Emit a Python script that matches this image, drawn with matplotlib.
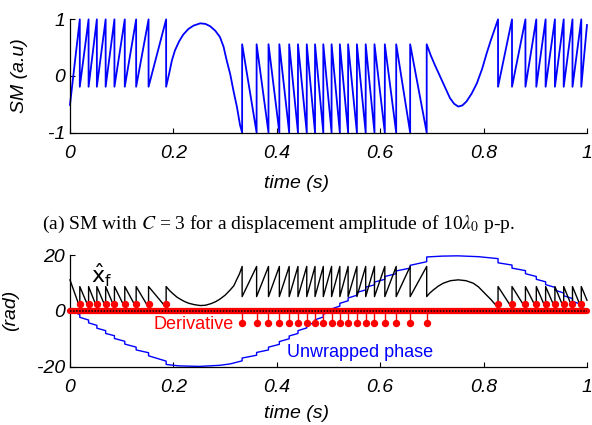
import matplotlib
matplotlib.use('Agg')
import matplotlib.pyplot as plt

plt.rcParams['font.family'] = ['Liberation Sans', 'DejaVu Sans']
plt.rcParams['axes.unicode_minus'] = False

# fringe times (s)
t_a = [0.019, 0.036, 0.052, 0.069, 0.086, 0.106, 0.128, 0.152, 0.186]
t_b = [0.333, 0.361, 0.384, 0.405, 0.424, 0.441, 0.458, 0.474, 0.490, 0.506,
       0.522, 0.538, 0.555, 0.572, 0.589, 0.609, 0.631, 0.658, 0.690]
t_c = [0.828, 0.855, 0.881, 0.902, 0.920, 0.938, 0.955, 0.972, 0.989]

# SM signal: level just before / just after each fringe
sm_start, sm_end = -0.51, 0.90
sm_a = (1.0, -0.19)
sm_b = (-1.0, 0.56)
sm_c = (1.0, -0.19)
sm_arc1_t = [0.192, 0.197, 0.203, 0.211, 0.219, 0.229, 0.239, 0.252, 0.262, 0.271,
             0.281, 0.290, 0.297, 0.303, 0.310, 0.316, 0.323, 0.329]
sm_arc1_v = [0.05, 0.27, 0.45, 0.61, 0.73, 0.83, 0.89, 0.93, 0.92, 0.88,
             0.80, 0.69, 0.52, 0.28, 0.03, -0.25, -0.55, -0.87]
sm_arc2_t = [0.698, 0.706, 0.714, 0.722, 0.735, 0.743, 0.751, 0.759, 0.767, 0.777,
             0.787, 0.797, 0.806, 0.814, 0.822]
sm_arc2_v = [0.36, 0.19, 0.03, -0.13, -0.39, -0.49, -0.54, -0.52, -0.45, -0.31,
             -0.13, 0.12, 0.40, 0.63, 0.84]

# x_f estimate (rad)
xf_start, xf_end = 11.1, 3.8
xf_a = (1.2, 8.7)
xf_b = (15.9, 5.1)
xf_c = (1.0, 8.7)
xf_arc1_t = [0.193, 0.200, 0.207, 0.215, 0.222, 0.230, 0.241, 0.252, 0.262, 0.273,
             0.282, 0.290, 0.300, 0.310, 0.317, 0.322, 0.328]
xf_arc1_v = [7.2, 6.0, 4.9, 4.0, 3.3, 2.7, 2.2, 1.9, 2.0, 2.6,
             3.3, 4.2, 5.6, 7.5, 9.0, 11.0, 13.3]
xf_arc2_t = [0.696, 0.703, 0.712, 0.722, 0.736, 0.751, 0.766, 0.780, 0.790, 0.799,
             0.807, 0.815, 0.822]
xf_arc2_v = [6.4, 7.5, 8.8, 9.9, 10.8, 11.1, 10.8, 9.9, 8.6, 6.9,
             5.4, 3.9, 2.4]

# unwrapped phase (rad)
ph_start, ph_end = 0.0, 0.4
ph_a_before = [-1.3, -3.3, -5.2, -7.1, -8.9, -10.9, -13.0, -15.0, -18.0]
ph_a_after = [-2.3, -4.3, -6.2, -8.1, -9.9, -11.9, -14.0, -16.1, -19.2]
ph_arc1_t = [0.21, 0.25, 0.29, 0.31]
ph_arc1_v = [-19.7, -19.9, -19.5, -19.0]
ph_b_before = [-17.9, -15.9, -14.0, -12.0, -10.0, -8.1, -6.1, -4.2, -2.2, -0.3,
               1.7, 3.6, 5.6, 7.5, 9.3, 11.3, 13.3, 15.3, 17.6]
ph_b_after = [-16.9, -14.9, -13.0, -11.0, -9.0, -7.1, -5.1, -3.2, -1.2, 0.7,
              2.7, 4.6, 6.6, 8.5, 10.3, 12.3, 14.3, 16.3, 19.3]
ph_arc2_t = [0.72, 0.75, 0.79]
ph_arc2_v = [19.6, 19.7, 19.4]
ph_c_before = [18.7, 16.4, 14.4, 12.3, 10.4, 8.4, 6.4, 4.4, 2.3]
ph_c_after = [17.2, 15.3, 13.3, 11.3, 9.4, 7.4, 5.4, 3.4, 1.3]

# derivative stems
d_a, d_b, d_c = 2.6, -4.4, 2.6

xticks = [0, 0.2, 0.4, 0.6, 0.8, 1]
xtick_labels = ['0', '0.2', '0.4', '0.6', '0.8', '1']
sm_yticks = [-1, 0, 1]
sm_ytick_labels = ['-1', '0', '1']
rad_yticks = [-20, 0, 20]
rad_ytick_labels = ['-20', '0', '20']


def trace(start, pieces, end):
    # pieces: (times, before, after); before/after scalar or list
    ts, vs = [0.0], [start]
    for times, before, after in pieces:
        for i, t in enumerate(times):
            b = before[i] if isinstance(before, list) else before
            a = after[i] if isinstance(after, list) else after
            ts += [t, t]
            vs += [b, a]
    ts.append(1.0)
    vs.append(end)
    return ts, vs


def style_axes(ax, yticks, ylabels):
    ax.spines['top'].set_visible(False)
    ax.spines['right'].set_visible(False)
    for s in ('left', 'bottom'):
        ax.spines[s].set_linewidth(0.9)
    ax.set_xlim(0, 1)
    ax.set_xticks(xticks)
    ax.set_xticklabels(xtick_labels, fontstyle='italic', fontsize=14)
    ax.set_yticks(yticks)
    ax.set_yticklabels(ylabels, fontstyle='italic', fontsize=14)
    ax.tick_params(direction='in', length=3.5, width=0.8)
    ax.tick_params(axis='x', pad=9)
    ax.tick_params(axis='y', pad=3.5)


fig = plt.figure(figsize=(5.92, 4.25), dpi=100)
ax1 = fig.add_axes([0.1182, 0.688, 0.8733, 0.2664])
ax2 = fig.add_axes([0.1182, 0.1372, 0.8733, 0.2628])

# top: SM signal
sm_t, sm_v = trace(sm_start, [(t_a, sm_a[0], sm_a[1]),
                              (sm_arc1_t, sm_arc1_v, sm_arc1_v),
                              (t_b, sm_b[0], sm_b[1]),
                              (sm_arc2_t, sm_arc2_v, sm_arc2_v),
                              (t_c, sm_c[0], sm_c[1])], sm_end)
ax1.plot(sm_t, sm_v, color='#0000ff', lw=1.3, clip_on=False)
ax1.set_ylim(-1, 1)
style_axes(ax1, sm_yticks, sm_ytick_labels)
ax1.text(-0.097, 0.5, 'SM (a.u)', transform=ax1.transAxes, rotation=90,
         ha='center', va='center', fontsize=14, fontstyle='italic')

# bottom: phases
ph_t, ph_v = trace(ph_start, [(t_a, ph_a_before, ph_a_after),
                              (ph_arc1_t, ph_arc1_v, ph_arc1_v),
                              (t_b, ph_b_before, ph_b_after),
                              (ph_arc2_t, ph_arc2_v, ph_arc2_v),
                              (t_c, ph_c_before, ph_c_after)], ph_end)
xf_t, xf_v = trace(xf_start, [(t_a, xf_a[0], xf_a[1]),
                              (xf_arc1_t, xf_arc1_v, xf_arc1_v),
                              (t_b, xf_b[0], xf_b[1]),
                              (xf_arc2_t, xf_arc2_v, xf_arc2_v),
                              (t_c, xf_c[0], xf_c[1])], xf_end)
ax2.plot(ph_t, ph_v, color='#0000ff', lw=1.0, zorder=2, clip_on=False)
ax2.plot(xf_t, xf_v, color='black', lw=1.0, zorder=3, clip_on=False)

stem_t = t_a + t_b + t_c
stem_v = [d_a] * len(t_a) + [d_b] * len(t_b) + [d_c] * len(t_c)
ax2.vlines(stem_t, 0, stem_v, color='red', lw=1.0, zorder=4)
ax2.plot(stem_t, stem_v, 'o', color='red', ms=4.3, zorder=6, clip_on=False)
ax2.plot([0, 1], [0, 0], color='red', lw=4.5, solid_capstyle='round', zorder=5, clip_on=False)
ax2.plot([0, 1], [0, 0], color='black', lw=1.1, ls=(0, (1, 1)), zorder=7, clip_on=False)

ax2.set_ylim(-20, 20)
style_axes(ax2, rad_yticks, rad_ytick_labels)
ax2.text(-0.115, 0.5, '(rad)', transform=ax2.transAxes, rotation=90,
         ha='center', va='center', fontsize=14, fontstyle='italic')

ax2.text(0.041, 9.9, r'$\mathrm{\hat{x}_f}$', fontsize=16, ha='left', va='baseline',
         math_fontfamily='dejavusans', zorder=8)
ax2.text(0.240, -6.45, 'Derivative', color='red', fontsize=13, ha='center', va='baseline', zorder=8)
ax2.text(0.562, -16.4, 'Unwrapped phase', color='#0000ff', fontsize=13, ha='center',
         va='baseline', zorder=8)

fig.text(0.5, 1 - 183 / 425, 'time (s)', ha='center', va='center', fontsize=14, fontstyle='italic')
fig.text(0.5, 1 - 414 / 425, 'time (s)', ha='center', va='center', fontsize=14, fontstyle='italic')
fig.text(0.4704, 1 - 229 / 425,
         r'(a) SM with $C$ = 3 for a displacement amplitude of 10$\lambda_0$ p-p.',
         ha='center', va='baseline', fontsize=14, family='Liberation Serif',
         math_fontfamily='stix')

fig.savefig('out.png', dpi=100)
